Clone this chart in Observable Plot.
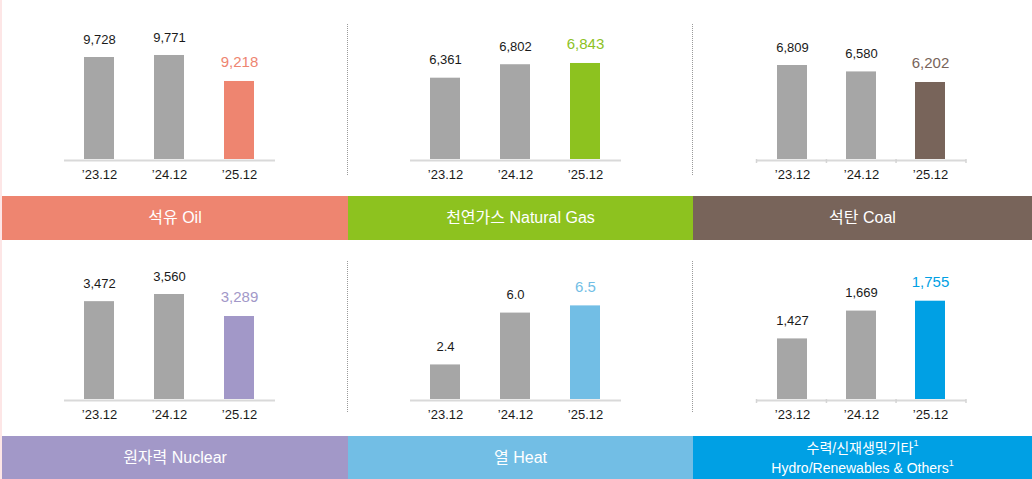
<!DOCTYPE html>
<html><head><meta charset="utf-8">
<script src="https://cdn.jsdelivr.net/npm/d3@7"></script>
<script src="https://cdn.jsdelivr.net/npm/@observablehq/plot@0.6"></script>
<style>
body{margin:0;background:#fff;}
#chart{position:relative;width:1032px;height:479px;overflow:hidden;background:#fff;font-family:"Liberation Sans","Noto Sans CJK KR",sans-serif;}
.panel{position:absolute;}
.band{position:absolute;display:flex;flex-direction:column;align-items:center;justify-content:center;color:#fff;font-size:16px;line-height:20px;}
.band.two{font-size:14px;}
.band sup{font-size:9px;line-height:0;position:relative;top:-1px;vertical-align:super;}
.sep{position:absolute;width:0;border-left:1px dotted #9a9a9a;}
.edge{position:absolute;left:0;top:0;width:2px;height:479px;background:#fde6e6;}
</style></head><body><div id="chart"></div><script>
// ---- data ----
const periods = ["\u201923.12", "\u201924.12", "\u201925.12"];
const oil = [9728, 9771, 9218];
const gas = [6361, 6802, 6843];
const coal = [6809, 6580, 6202];
const nuclear = [3472, 3560, 3289];
const heat = [2.4, 6.0, 6.5];
const hydro = [1427, 1669, 1755];
const series = [oil, gas, coal, nuclear, heat, hydro];
const titlesKo = ["석유 Oil", "천연가스 Natural Gas", "석탄 Coal", "원자력 Nuclear", "열 Heat", "수력/신재생및기타"];
const titleEn6 = "Hydro/Renewables & Others";
const axisMin = [7558, 3695, 3452, 2267, 0, 900];
const axisMax = [10941, 8908, 9131, 4225, 11.04, 2283];
const decimals = [0, 0, 0, 0, 1, 0];

// ---- styles / layout ----
const colors = ["#EE8570", "#8DC21F", "#78645A", "#A298C8", "#72BEE5", "#00A0E4"];
const gray = "#A6A6A6";
const colLeft = [0, 348, 693];
const colWidth = [348, 345, 339];
const colML = [64, 62, 63.5];
const colMR = [73, 72, 66];
const rowTop = [0, 240];
const PI = 0.57, PO = 0.29;
const withTicks = [false, false, true, false, false, true];

const chart = document.getElementById("chart");
const edge = document.createElement("div"); edge.className = "edge"; chart.appendChild(edge);

function edgeTicks(...args) {
  const dims = args.find(a => a && typeof a === "object" && a.marginLeft !== undefined && a.width !== undefined);
  const {marginLeft, marginRight, width, height, marginBottom} = dims;
  const left = marginLeft, right = width - marginRight, n = periods.length;
  const step = (right - left) / (n - PI + 2 * PO);
  const xs = [left];
  for (let k = 1; k < n; k++) xs.push(left + step * PO + k * step - step * PI / 2);
  xs.push(right);
  const y0 = height - marginBottom;
  const g = d3.create("svg:g");
  g.selectAll("line").data(xs).join("line")
    .attr("x1", d => d).attr("x2", d => d).attr("y1", y0).attr("y2", y0 + 4)
    .attr("stroke", "#d4d4d4").attr("stroke-width", 1.5);
  return g.node();
}

series.forEach((vals, i) => {
  const col = i % 3, row = Math.floor(i / 3);
  const rows = periods.map((p, j) => ({period: p, value: vals[j], hi: j === periods.length - 1}));
  const fmt = decimals[i] ? d3.format(".1f") : d3.format(",");
  const marks = [
    Plot.barY(rows, {x: "period", y1: axisMin[i], y2: "value", fill: d => d.hi ? colors[i] : gray}),
    Plot.ruleY([axisMin[i]], {stroke: "#d9d9d9", strokeWidth: 2, dy: 1}),
    Plot.text(rows.filter(d => !d.hi), {x: "period", y: "value", text: d => fmt(d.value), dy: -18, fontSize: 13, fill: "#1a1a1a"}),
    Plot.text(rows.filter(d => d.hi), {x: "period", y: "value", text: d => fmt(d.value), dy: -19, fontSize: 15, fill: colors[i]}),
    Plot.axisX({tickSize: 0, tickPadding: 10, fontSize: 13, fill: "#1a1a1a", label: null})
  ];
  if (withTicks[i]) marks.push(edgeTicks);
  const svg = Plot.plot({
    width: colWidth[col], height: 196,
    marginLeft: colML[col], marginRight: colMR[col], marginTop: 0, marginBottom: 37,
    x: {domain: periods, paddingInner: PI, paddingOuter: PO, axis: null},
    y: {domain: [axisMin[i], axisMax[i]], axis: null},
    style: {fontFamily: '"Liberation Sans","Noto Sans CJK KR",sans-serif', background: "transparent", overflow: "visible"},
    marks
  });
  const wrap = document.createElement("div");
  wrap.className = "panel";
  wrap.style.left = colLeft[col] + "px";
  wrap.style.top = rowTop[row] + "px";
  wrap.appendChild(svg);
  chart.appendChild(wrap);

  const band = document.createElement("div");
  band.className = "band" + (i === 5 ? " two" : "");
  const bx = col === 0 ? 2 : colLeft[col];
  band.style.left = bx + "px";
  band.style.width = (colLeft[col] + colWidth[col] - bx) + "px";
  band.style.top = (rowTop[row] + 196) + "px";
  band.style.height = (row === 0 ? 44 : 43) + "px";
  band.style.background = colors[i];
  if (i === 5) {
    band.innerHTML = `<div>${titlesKo[i]}<sup>1</sup></div><div>${titleEn6}<sup>1</sup></div>`;
  } else {
    band.textContent = titlesKo[i];
  }
  chart.appendChild(band);
});

// dotted separators
[[347, 24], [692, 24], [347, 261], [692, 261]].forEach(([x, y]) => {
  const s = document.createElement("div");
  s.className = "sep";
  s.style.left = x + "px"; s.style.top = y + "px"; s.style.height = "151px";
  chart.appendChild(s);
});
</script></body></html>
